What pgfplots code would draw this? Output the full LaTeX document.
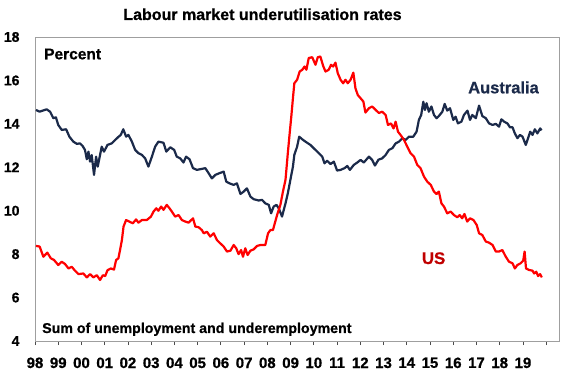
\documentclass[border=0pt]{standalone}
\usepackage{pgfplots}
\pgfplotsset{compat=1.18}
\usepackage{fontspec}
\setmainfont{Liberation Sans}[BoldFeatures={FakeBold=0.7}]
\definecolor{navy}{HTML}{1B2A4A}
\definecolor{usred}{HTML}{FF0000}
\definecolor{uslab}{HTML}{C00000}
\begin{document}
\begin{tikzpicture}[x=1pt,y=1pt]
\path[use as bounding box] (0,0) rectangle (570,372);
\begin{axis}[
  at={(35pt,31pt)}, anchor=south west,
  scale only axis, width=524pt, height=304pt,
  xmin=1998, xmax=2020.55, ymin=4, ymax=18,
  ytick={4,6,...,18},
  xtick={1998,...,2020},
  xticklabels={98,99,00,01,02,03,04,05,06,07,08,09,10,11,12,13,14,15,16,17,18,19,},
  /pgf/number format/assume math mode=true,
  axis line style={draw=gray!75, line width=0.8pt},
  ytick style={draw=none},
  xtick style={draw=black!70, line width=0.8pt},
  xtick pos=bottom, tick align=outside, major tick length=4pt,
  yticklabel style={font=\fontsize{14}{16}\selectfont\bfseries, xshift=-8pt},
  xticklabel style={font=\fontsize{15}{17}\selectfont\bfseries, yshift=-9pt},
  clip=false,
]
\addplot[navy, line width=2.2pt, line join=round] coordinates {
(1998.04,14.64) (1998.2,14.56) (1998.5,14.67) (1998.65,14.56) (1998.79,14.26) (1998.9,14.3) (1999.0,13.95) (1999.15,13.72) (1999.34,13.75) (1999.48,13.41) (1999.65,13.18) (1999.8,13.08) (1999.94,13.1) (2000.05,12.98) (2000.15,12.8) (2000.23,12.37) (2000.3,12.72) (2000.37,12.26) (2000.44,12.56) (2000.54,11.65) (2000.63,12.49) (2000.7,12.03) (2000.8,12.57) (2000.87,12.95) (2000.97,12.72) (2001.12,13.03) (2001.3,13.1) (2001.45,13.26) (2001.6,13.41) (2001.69,13.49) (2001.8,13.75) (2001.92,13.41) (2002.02,13.49) (2002.17,13.18) (2002.31,12.8) (2002.45,12.65) (2002.6,12.57) (2002.74,12.41) (2002.88,12.03) (2003.03,12.49) (2003.17,12.95) (2003.31,13.18) (2003.53,13.13) (2003.65,12.72) (2003.82,12.92) (2003.99,12.8) (2004.1,12.49) (2004.25,12.41) (2004.39,12.22) (2004.5,12.49) (2004.65,12.37) (2004.8,11.96) (2004.97,11.88) (2005.15,11.92) (2005.33,11.96) (2005.47,11.73) (2005.61,11.49) (2005.76,11.65) (2005.94,11.73) (2006.12,11.8) (2006.23,11.34) (2006.37,11.26) (2006.55,11.19) (2006.69,11.26) (2006.84,10.77) (2006.98,10.88) (2007.12,11.03) (2007.27,10.65) (2007.41,10.53) (2007.63,10.47) (2007.77,10.5) (2007.91,10.34) (2008.06,10.27) (2008.16,9.88) (2008.27,10.19) (2008.39,10.27) (2008.49,10.11) (2008.63,9.73) (2008.78,10.34) (2008.88,10.8) (2008.99,11.42) (2009.1,12.03) (2009.16,12.57) (2009.28,12.95) (2009.37,13.41) (2009.5,13.29) (2009.64,13.18) (2009.85,13.03) (2010.07,12.8) (2010.21,12.65) (2010.36,12.49) (2010.46,12.18) (2010.57,12.3) (2010.72,12.15) (2010.86,12.26) (2011.0,11.85) (2011.15,11.88) (2011.32,11.96) (2011.44,12.06) (2011.55,11.88) (2011.72,12.11) (2011.87,12.22) (2012.01,12.34) (2012.15,12.22) (2012.37,12.49) (2012.51,12.34) (2012.63,12.08) (2012.78,12.35) (2012.94,12.41) (2013.09,12.57) (2013.23,12.8) (2013.38,12.88) (2013.52,13.1) (2013.66,13.18) (2013.81,13.34) (2013.95,13.26) (2014.09,13.41) (2014.28,13.41) (2014.42,13.64) (2014.52,14.18) (2014.62,14.41) (2014.71,15.02) (2014.78,14.64) (2014.85,14.95) (2014.95,14.56) (2015.06,14.8) (2015.17,14.41) (2015.28,14.26) (2015.38,14.36) (2015.53,14.56) (2015.63,14.92) (2015.74,14.61) (2015.86,14.72) (2016.0,14.18) (2016.1,14.33) (2016.2,14.02) (2016.35,14.1) (2016.46,14.41) (2016.61,14.61) (2016.72,14.18) (2016.82,14.41) (2016.97,14.26) (2017.11,14.84) (2017.25,14.36) (2017.4,14.26) (2017.54,14.02) (2017.69,13.95) (2017.83,14.0) (2017.97,13.87) (2018.07,14.21) (2018.19,14.1) (2018.33,14.02) (2018.44,13.84) (2018.55,13.84) (2018.65,13.56) (2018.76,13.34) (2018.87,13.49) (2018.98,13.41) (2019.12,13.03) (2019.22,13.34) (2019.31,13.64) (2019.41,13.49) (2019.51,13.75) (2019.62,13.56) (2019.74,13.79) (2019.8,13.7)
};
\addplot[usred, line width=2.2pt, line join=round] coordinates {
(1998.04,8.38) (1998.2,8.35) (1998.36,7.88) (1998.53,8.07) (1998.68,7.81) (1998.82,7.73) (1999.0,7.5) (1999.15,7.65) (1999.29,7.55) (1999.44,7.34) (1999.58,7.42) (1999.72,7.24) (1999.87,7.08) (2000.08,7.11) (2000.23,6.93) (2000.37,7.08) (2000.51,6.93) (2000.66,7.03) (2000.8,6.81) (2000.92,7.03) (2001.02,6.99) (2001.12,7.26) (2001.26,7.34) (2001.4,7.29) (2001.49,7.73) (2001.59,7.81) (2001.66,8.19) (2001.74,8.65) (2001.81,9.27) (2001.92,9.57) (2002.06,9.5) (2002.21,9.42) (2002.35,9.6) (2002.45,9.45) (2002.6,9.57) (2002.81,9.57) (2002.99,9.73) (2003.1,9.96) (2003.22,10.11) (2003.31,10.0) (2003.43,10.19) (2003.53,10.04) (2003.67,10.27) (2003.79,10.11) (2003.89,9.96) (2004.03,9.73) (2004.18,9.8) (2004.32,9.57) (2004.47,9.5) (2004.61,9.45) (2004.8,9.65) (2004.9,9.27) (2005.04,9.24) (2005.18,9.11) (2005.26,8.96) (2005.4,9.03) (2005.54,8.81) (2005.69,8.96) (2005.83,8.65) (2005.97,8.5) (2006.12,8.35) (2006.26,8.12) (2006.41,8.16) (2006.55,8.42) (2006.66,8.27) (2006.76,8.0) (2006.87,8.19) (2006.95,7.88) (2007.05,8.27) (2007.15,7.96) (2007.27,8.16) (2007.41,8.22) (2007.56,8.38) (2007.7,8.42) (2007.91,8.42) (2008.03,8.96) (2008.13,9.11) (2008.24,9.11) (2008.34,9.5) (2008.44,9.88) (2008.56,10.27) (2008.67,10.88) (2008.78,11.42) (2008.88,12.65) (2008.96,13.57) (2009.03,14.34) (2009.1,15.18) (2009.16,15.87) (2009.28,16.03) (2009.39,16.41) (2009.5,16.49) (2009.6,16.64) (2009.68,16.49) (2009.78,17.03) (2009.93,17.07) (2010.07,16.72) (2010.17,17.07) (2010.28,17.1) (2010.4,16.67) (2010.5,16.41) (2010.64,16.49) (2010.74,16.72) (2010.83,16.64) (2010.93,16.82) (2011.03,16.33) (2011.15,16.03) (2011.26,15.87) (2011.36,16.03) (2011.46,15.87) (2011.58,16.03) (2011.7,16.36) (2011.79,15.64) (2011.89,15.33) (2012.01,15.18) (2012.13,15.03) (2012.22,14.52) (2012.37,14.72) (2012.51,14.8) (2012.66,14.64) (2012.8,14.5) (2012.94,14.56) (2013.09,14.41) (2013.19,13.95) (2013.32,14.02) (2013.43,13.79) (2013.52,14.1) (2013.62,13.64) (2013.73,13.49) (2013.88,13.26) (2014.02,12.95) (2014.16,12.65) (2014.31,12.49) (2014.45,12.11) (2014.59,11.96) (2014.74,11.57) (2014.88,11.34) (2015.03,11.19) (2015.17,10.88) (2015.28,10.77) (2015.38,10.88) (2015.49,10.34) (2015.6,10.19) (2015.74,9.88) (2015.89,9.96) (2016.03,9.8) (2016.17,9.7) (2016.28,9.8) (2016.38,9.65) (2016.48,9.85) (2016.6,9.5) (2016.72,9.65) (2016.87,9.57) (2017.01,9.34) (2017.11,8.96) (2017.25,8.88) (2017.4,8.58) (2017.54,8.53) (2017.69,8.42) (2017.83,8.12) (2017.97,8.12) (2018.11,8.19) (2018.26,7.88) (2018.4,7.65) (2018.55,7.58) (2018.65,7.34) (2018.76,7.5) (2018.9,7.58) (2019.01,7.7) (2019.07,8.12) (2019.13,7.34) (2019.26,7.27) (2019.41,7.24) (2019.48,7.11) (2019.57,7.19) (2019.65,6.99) (2019.74,7.08) (2019.81,6.93)
};
\end{axis}
\node[anchor=base, font=\fontsize{16}{19}\selectfont\bfseries, inner sep=0pt] at (262.5,352) {Labour market underutilisation rates};
\node[anchor=base west, font=\fontsize{15.5}{18}\selectfont\bfseries, inner sep=0pt] at (44,312.7) {Percent};
\node[anchor=base west, font=\fontsize{14.2}{17}\selectfont\bfseries, inner sep=0pt] at (42,39) {Sum of unemployment and underemployment};
\node[anchor=base west, font=\fontsize{16.5}{19}\selectfont\bfseries, inner sep=0pt, text=navy] at (468,278.7) {Australia};
\node[anchor=base west, font=\fontsize{16.8}{19}\selectfont\bfseries, inner sep=0pt, text=uslab] at (421.7,108) {US};
\end{tikzpicture}
\end{document}
